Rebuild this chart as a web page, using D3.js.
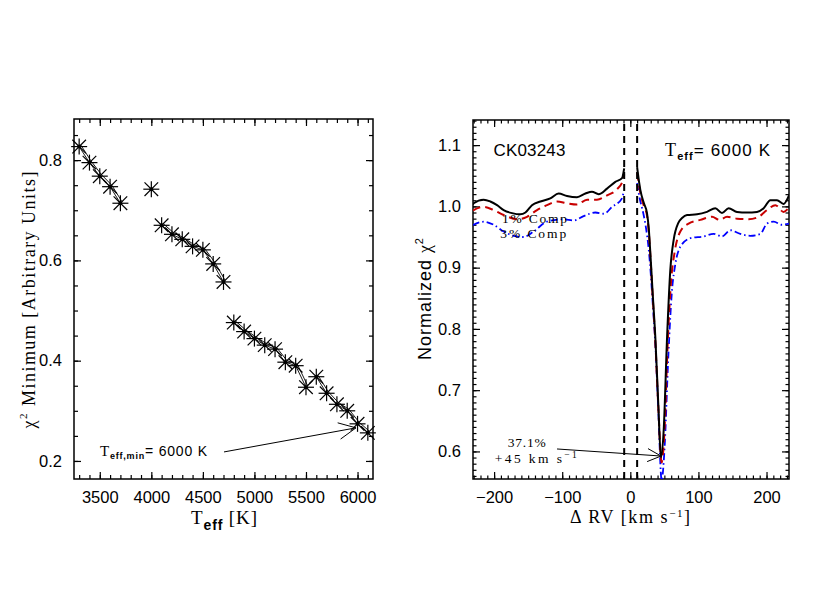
<!DOCTYPE html>
<html><head><meta charset="utf-8">
<script src="https://cdn.jsdelivr.net/npm/d3@7"></script>
<style>
body{margin:0;background:#fff;}
text{fill:#000;}
.tick text{font-family:"Liberation Sans",Arial,sans-serif;font-size:16.5px;}
.serif{font-family:"Liberation Serif","Times New Roman",serif;}
.sans{font-family:"Liberation Sans",Arial,sans-serif;}
</style>
</head><body>
<svg id="c" width="830" height="600"></svg>
<script>
// ---------- Left panel data ----------
const teff = [3300,3400,3500,3600,3700,4000,4100,4200,4300,4400,4500,4600,4700,4800,4900,5000,5100,5200,5300,5400,5500,5600,5700,5800,5900,6000,6100];
const chiMin = [0.827,0.795,0.768,0.747,0.714,0.742,0.670,0.652,0.642,0.628,0.621,0.593,0.557,0.476,0.458,0.444,0.431,0.423,0.397,0.390,0.347,0.368,0.335,0.313,0.300,0.274,0.256];
const lineGroup = [1,1,1,1,1,2,3,3,3,3,3,3,3,4,4,4,4,4,4,4,4,4,4,4,4,4,4];
const leftXTicks = [3500,4000,4500,5000,5500,6000];
const leftYTicks = [0.2,0.4,0.6,0.8];

// ---------- Right panel data ----------
const rvBlackL = [-231,-230,-215.4,-205.6,-195.7,-186,-173.7,-161.5,-154,-144.4,-132,-117.5,-105.3,-93,-78.3,-66,-56.3,-46.5,-34.2,-22,-12.2,-9];
const chiBlackL = [1.003,1.005,1.011,1.008,1.002,0.994,0.989,0.987,0.990,1.002,1.008,1.013,1.021,1.017,1.015,1.021,1.024,1.020,1.029,1.040,1.046,1.062];
const rvBlackR = [10,11,14.7,20,24.5,27,29.4,33,36.7,41,45,49,54,58.7,63.6,70.5,76,83.3,98,112.6,124.8,134.6,144.4,156.7,171.3,186,195.8,205.6,215.4,225,233];
const chiBlackR = [1.064,1.055,1.027,1.005,0.989,0.965,0.924,0.855,0.787,0.679,0.590,0.635,0.787,0.896,0.945,0.973,0.981,0.986,0.987,0.991,0.997,0.989,0.997,0.991,0.990,0.991,0.997,1.010,1.010,1.004,1.018];

const rvRedL = [-231,-230,-215,-200.7,-186,-166,-151.7,-137,-122.3,-107.6,-93,-78.3,-63.6,-49,-34.2,-19.5,-10.7,-9];
const chiRedL = [0.993,0.994,0.999,0.994,0.986,0.979,0.983,0.994,1.002,1.008,1.005,1.003,1.011,1.011,1.018,1.028,1.043,1.052];
const rvRedR = [10,14.7,20,24.5,27,29.4,33,36.7,41,46,50,55,60,65,73.4,85.6,102.8,120,131,142,156.7,173.7,188.4,200.7,213,225,233];
const chiRedR = [1.055,1.022,1.000,0.985,0.960,0.920,0.850,0.780,0.675,0.582,0.630,0.780,0.880,0.925,0.959,0.972,0.978,0.983,0.978,0.983,0.980,0.979,0.983,0.994,1.002,0.991,0.998];

const rvBlueL = [-231,-230,-215,-200.7,-186,-171.3,-156.7,-142,-122.3,-98,-83,-68.6,-51.4,-38.7,-27,-12.2,-9.8];
const chiBlueL = [0.969,0.970,0.975,0.970,0.959,0.952,0.950,0.959,0.975,0.979,0.977,0.984,0.990,0.988,0.999,1.013,1.024];
const rvBlueR = [10,14,19,23,27,30,33,37,41,46,50,56,61,66,73.4,88,107.6,122.3,134.6,146.8,161.5,176.2,191,200.7,210.4,222.7,233];
const chiBlueR = [1.038,1.012,0.989,0.965,0.930,0.890,0.840,0.770,0.670,0.553,0.600,0.760,0.860,0.905,0.934,0.948,0.951,0.955,0.951,0.961,0.955,0.952,0.955,0.972,0.975,0.970,0.972];

const vLines = [-9,10];
const rightXTicks = [-200,-100,0,100,200];
const rightYTicks = [0.6,0.7,0.8,0.9,1.0,1.1];

const svg = d3.select("#c");

function frame(g, x, y, major, minor, fmtX, fmtY, majLen, minLen){
  const [x0,x1] = x.range(), [y0,y1] = y.range();
  g.append("g").attr("transform",`translate(0,${y0})`).call(d3.axisBottom(x).tickValues(minor.x).tickSize(-minLen).tickFormat(""));
  g.append("g").attr("transform",`translate(0,${y1})`).call(d3.axisTop(x).tickValues(minor.x).tickSize(-minLen).tickFormat(""));
  g.append("g").attr("transform",`translate(${x0},0)`).call(d3.axisLeft(y).tickValues(minor.y).tickSize(-minLen).tickFormat(""));
  g.append("g").attr("transform",`translate(${x1},0)`).call(d3.axisRight(y).tickValues(minor.y).tickSize(-minLen).tickFormat(""));
  g.append("g").attr("transform",`translate(0,${y0})`).call(d3.axisBottom(x).tickValues(major.x).tickSize(-majLen).tickPadding(majLen+5).tickFormat(fmtX));
  g.append("g").attr("transform",`translate(0,${y1})`).call(d3.axisTop(x).tickValues(major.x).tickSize(-majLen).tickFormat(""));
  g.append("g").attr("transform",`translate(${x0},0)`).call(d3.axisLeft(y).tickValues(major.y).tickSize(-majLen).tickPadding(majLen+5).tickFormat(fmtY));
  g.append("g").attr("transform",`translate(${x1},0)`).call(d3.axisRight(y).tickValues(major.y).tickSize(-majLen).tickFormat(""));
  g.selectAll(".domain").remove();
  g.selectAll(".tick line").attr("stroke","#000").attr("stroke-width",1.2);
  g.append("rect").attr("x",x0).attr("y",y1).attr("width",x1-x0).attr("height",y0-y1)
    .attr("fill","none").attr("stroke","#000").attr("stroke-width",1.5);
}
function rng(a,b,s){const r=[];for(let v=a;v<=b+1e-9;v+=s) r.push(+v.toFixed(4));return r;}

// ================= LEFT PANEL =================
const xL = d3.scaleLinear().domain([3250,6150]).range([74,373]);
const yL = d3.scaleLinear().domain([0.164,0.882]).range([479,119]);
const gL = svg.append("g");
frame(gL, xL, yL, {x:leftXTicks,y:leftYTicks}, {x:rng(3300,6100,100),y:rng(0.2,0.85,0.05)},
  d=>d3.format("d")(d), d=>d3.format(".1f")(d), 7, 4);

const pts = teff.map((t,i)=>({t, c:chiMin[i], g:lineGroup[i]}));
const groups = d3.groups(pts, d=>d.g);
const lineL = d3.line().x(d=>xL(d.t)).y(d=>yL(d.c));
groups.forEach(([k,arr])=>{
  if(arr.length<2) return;
  gL.append("path").attr("d",lineL(arr)).attr("fill","none").attr("stroke","#000").attr("stroke-width",0.9);
  gL.append("path").attr("d",lineL(arr)).attr("fill","none").attr("stroke","#000").attr("stroke-width",0.9)
    .attr("transform","translate(1.6,-1.6)");
});
const ast = gL.append("g");
const R = 8, Rd = 6.8;
pts.forEach(d=>{
  const cx = xL(d.t), cy = yL(d.c);
  const s = ast.append("g").attr("stroke","#000").attr("stroke-width",1.2);
  s.append("line").attr("x1",cx-R).attr("x2",cx+R).attr("y1",cy).attr("y2",cy);
  s.append("line").attr("x1",cx).attr("x2",cx).attr("y1",cy-R).attr("y2",cy+R);
  s.append("line").attr("x1",cx-Rd).attr("x2",cx+Rd).attr("y1",cy-Rd).attr("y2",cy+Rd);
  s.append("line").attr("x1",cx-Rd).attr("x2",cx+Rd).attr("y1",cy+Rd).attr("y2",cy-Rd);
  ast.append("circle").attr("cx",cx).attr("cy",cy).attr("r",2).attr("fill","#000");
});

function arrow(g, x1,y1,x2,y2, head){
  g.append("line").attr("x1",x1).attr("y1",y1).attr("x2",x2).attr("y2",y2).attr("stroke","#000").attr("stroke-width",1);
  const a = Math.atan2(y2-y1,x2-x1);
  [Math.PI/7,-Math.PI/7].forEach(da=>{
    g.append("line").attr("x1",x2).attr("y1",y2)
      .attr("x2",x2-head*Math.cos(a+da)).attr("y2",y2-head*Math.sin(a+da))
      .attr("stroke","#000").attr("stroke-width",1);
  });
}
// annotation left
arrow(gL, xL(4705), yL(0.218), xL(5985), yL(0.266), 19);
const tl = gL.append("text").attr("x",xL(3502)).attr("y",yL(0.210)).attr("class","sans").style("font-size","14px")
  .attr("textLength",107).attr("lengthAdjust","spacing");
tl.append("tspan").attr("class","serif").style("font-size","15px").text("T");
tl.append("tspan").attr("dy",3).style("font-size","9px").style("font-weight","bold").text("eff,min");
tl.append("tspan").attr("dy",-3).text("= 6000 K");

// axis titles left
const yt = gL.append("text").attr("class","serif").attr("transform","translate(35,300) rotate(-90)")
  .attr("text-anchor","middle").style("font-size","18px").attr("textLength",257).attr("lengthAdjust","spacing");
yt.append("tspan").text("\u03c7");
yt.append("tspan").attr("dy",-8).style("font-size","11px").text("2");
yt.append("tspan").attr("dy",8).text(" Minimum [Arbitrary Units]");
const xt = gL.append("text").attr("class","serif").attr("x",224).attr("y",524).attr("text-anchor","middle").style("font-size","19px")
  .attr("textLength",66).attr("lengthAdjust","spacing");
xt.append("tspan").text("T");
xt.append("tspan").attr("dy",6).style("font-size","14px").attr("class","sans").style("font-weight","bold").text("eff");
xt.append("tspan").attr("dy",-6).text(" [K]");

// ================= RIGHT PANEL =================
const xR = d3.scaleLinear().domain([-231,233]).range([473,789]);
const yR = d3.scaleLinear().domain([0.555,1.141]).range([479,120]);
const gR = svg.append("g");
frame(gR, xR, yR, {x:rightXTicks,y:rightYTicks}, {x:rng(-230,230,10),y:rng(0.56,1.14,0.01)},
  d=> d<0 ? "\u2212"+Math.abs(d) : String(d), d=>d3.format(".1f")(d), 7, 3.5);

gR.append("clipPath").attr("id","clipR").append("rect")
  .attr("x",473).attr("y",120).attr("width",316).attr("height",359);
const curves = gR.append("g").attr("clip-path","url(#clipR)");
const lineR = d3.line().x(d=>xR(d[0])).y(d=>yR(d[1])).curve(d3.curveMonotoneX);
function drawCurve(xs, ys, color, dash, w){
  curves.append("path").datum(d3.zip(xs,ys)).attr("d",lineR).attr("fill","none")
    .attr("stroke",color).attr("stroke-width",w).attr("stroke-dasharray",dash).attr("stroke-linejoin","round");
}
drawCurve(rvBlueL, chiBlueL, "#0000ff", "7,3,1.5,3", 1.8);
drawCurve(rvBlueR, chiBlueR, "#0000ff", "7,3,1.5,3", 1.8);
drawCurve(rvRedL, chiRedL, "#c80000", "8,5", 2);
drawCurve(rvRedR, chiRedR, "#c80000", "8,5", 2);
drawCurve(rvBlackL, chiBlackL, "#000", null, 2);
drawCurve(rvBlackR, chiBlackR, "#000", null, 2);

vLines.forEach(v=>{
  gR.append("line").attr("x1",xR(v)).attr("x2",xR(v)).attr("y1",yR.range()[0]).attr("y2",yR.range()[1])
    .attr("stroke","#000").attr("stroke-width",2).attr("stroke-dasharray","7,5");
});

// labels in panel
gR.append("text").attr("class","sans").attr("x",xR(-201)).attr("y",yR(1.082)).style("font-size","17px")
  .attr("textLength",72).attr("lengthAdjust","spacing").text("CK03243");
const tt = gR.append("text").attr("class","sans").attr("x",xR(51)).attr("y",yR(1.082)).style("font-size","17px")
  .attr("textLength",105).attr("lengthAdjust","spacing");
tt.append("tspan").attr("class","serif").style("font-size","18px").text("T");
tt.append("tspan").attr("dy",4).style("font-size","11px").style("font-weight","bold").text("eff");
tt.append("tspan").attr("dy",-4).text("= 6000 K");

gR.append("text").attr("class","serif").attr("x",xR(-188.4)).attr("y",yR(0.973)).style("font-size","13.5px")
  .attr("textLength",65).attr("lengthAdjust","spacing").text("1% Comp");
gR.append("text").attr("class","serif").attr("x",xR(-191)).attr("y",yR(0.948)).style("font-size","13.5px")
  .attr("textLength",66).attr("lengthAdjust","spacing").text("3% Comp");

arrow(gR, xR(-107.6), yR(0.604), xR(45.1), yR(0.5925), 15);
gR.append("text").attr("class","serif").attr("x",xR(-152)).attr("y",yR(0.607)).attr("text-anchor","middle").style("font-size","13.5px")
  .attr("textLength",38).attr("lengthAdjust","spacing").text("37.1%");
const kt = gR.append("text").attr("class","serif").attr("x",xR(-199)).attr("y",yR(0.5815)).style("font-size","13.5px")
  .attr("textLength",82).attr("lengthAdjust","spacing");
kt.append("tspan").text("+45 km s");
kt.append("tspan").attr("dy",-5).style("font-size","9.5px").text("\u22121");

// axis titles right
const yr = gR.append("text").attr("class","sans").attr("transform","translate(431,299) rotate(-90)")
  .attr("text-anchor","middle").style("font-size","18px").attr("textLength",122).attr("lengthAdjust","spacing");
yr.append("tspan").text("Normalized ");
yr.append("tspan").attr("class","serif").text("\u03c7");
yr.append("tspan").attr("dy",-8).style("font-size","11px").text("2");
const xr = gR.append("text").attr("class","serif").attr("x",630).attr("y",523).attr("text-anchor","middle").style("font-size","18px")
  .attr("textLength",120).attr("lengthAdjust","spacing");
xr.append("tspan").text("\u0394 RV [km s");
xr.append("tspan").attr("dy",-6).style("font-size","11px").text("\u22121");
xr.append("tspan").attr("dy",6).text("]");
</script>
</body></html>
